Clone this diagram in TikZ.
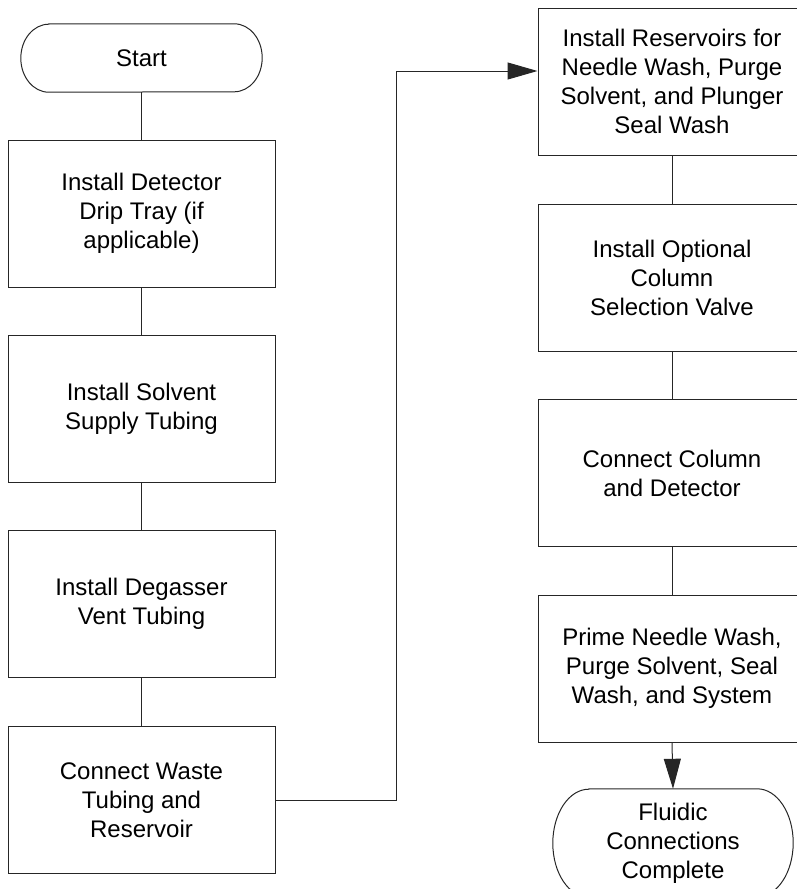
\documentclass[tikz,border=0pt]{standalone}
\usepackage{fontspec}
\setmainfont{Liberation Sans}
\usetikzlibrary{arrows.meta}
\tikzset{
  x=1pt, y=1pt,
  stepbox/.style={draw=black!85, line width=1pt, minimum width=267pt, minimum height=147pt,
    align=center, inner sep=0pt, font=\fontsize{24}{29}\selectfont},
  termnode/.style={draw=none, align=center, inner sep=0pt, font=\fontsize{24}{29}\selectfont},
  termline/.style={draw=black!85, line width=1pt},
  link/.style={draw=black!85, line width=1pt},
  arrowlink/.style={link, -{Triangle[length=30pt,width=17pt]}}
}
\begin{document}
\begin{tikzpicture}
\useasboundingbox (0,0) rectangle (797,-889);
\clip (0,0) rectangle (797,-889);
% left column
\node[termnode, minimum width=241pt, minimum height=68pt] (S) at (141.5,-58) {Start};
\draw[termline] ([xshift=28pt]S.north west) -- ([xshift=-28pt]S.north east)
  arc[start angle=90, end angle=-90, x radius=28, y radius=34]
  -- ([xshift=28pt]S.south west)
  arc[start angle=270, end angle=90, x radius=28, y radius=34] -- cycle;
\node[stepbox] (L1) at (141.5,-213.5) {Install Detector\\Drip Tray (if\\applicable)};
\node[stepbox] (L2) at (141.5,-408.5) {Install Solvent\\Supply Tubing};
\node[stepbox] (L3) at (141.5,-604) {Install Degasser\\Vent Tubing};
\node[stepbox] (L4) at (141.5,-800) {Connect Waste\\Tubing and\\Reservoir};
% right column
\node[stepbox, minimum width=268pt] (R1) at (672,-81.5) {Install Reservoirs for\\Needle Wash, Purge\\Solvent, and Plunger\\Seal Wash};
\node[stepbox, minimum width=268pt] (R2) at (672,-278) {Install Optional\\Column\\Selection Valve};
\node[stepbox, minimum width=268pt] (R3) at (672,-473) {Connect Column\\and Detector};
\node[stepbox, minimum width=268pt] (R4) at (672,-668.5) {Prime Needle Wash,\\Purge Solvent, Seal\\Wash, and System};
\node[termnode, minimum width=240pt, minimum height=108pt] (E) at (673,-843) {Fluidic\\Connections\\Complete};
\draw[termline] ([xshift=36pt]E.north west) -- ([xshift=-36pt]E.north east)
  arc[start angle=90, end angle=-90, x radius=36, y radius=54]
  -- ([xshift=36pt]E.south west)
  arc[start angle=270, end angle=90, x radius=36, y radius=54] -- cycle;
% connectors
\draw[link] (S.south) -- (L1.north);
\draw[link] (L1.south) -- (L2.north);
\draw[link] (L2.south) -- (L3.north);
\draw[link] (L3.south) -- (L4.north);
\coordinate (turn) at (396,-71);
\draw[arrowlink] (L4.east) -| (turn) -- (R1.west |- turn);
\draw[link] (R1.south) -- (R2.north);
\draw[link] (R2.south) -- (R3.north);
\draw[link] (R3.south) -- (R4.north);
\draw[arrowlink] (R4.south) -- (E.north);
\end{tikzpicture}
\end{document}
